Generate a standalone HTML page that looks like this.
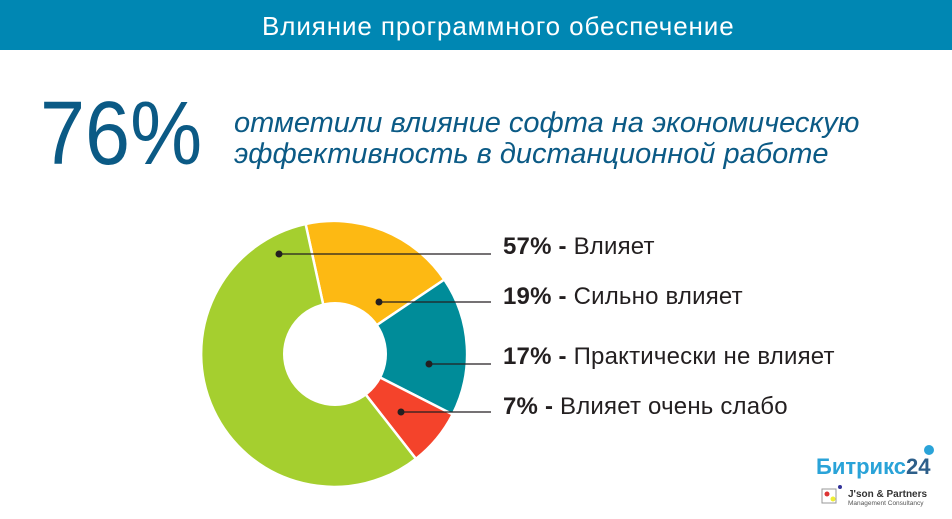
<!DOCTYPE html>
<html><head><meta charset="utf-8"><style>
body{margin:0;width:952px;height:519px;background:#fff;position:relative;overflow:hidden;font-family:"Liberation Sans","DejaVu Sans",sans-serif}
.hdr{position:absolute;left:0;top:0;width:952px;height:50px;background:#0087b3}
.hdr span{position:absolute;left:262px;top:0;color:#fff;font-size:26px;line-height:52px;letter-spacing:0.9px;white-space:nowrap}
.big{position:absolute;left:40px;top:84px;font-size:90px;color:#0b5a85;line-height:100px;transform:scaleX(0.9);transform-origin:left}
.sub{position:absolute;left:234px;top:108px;font-size:29px;font-style:italic;color:#0b5a85;line-height:31px;white-space:nowrap}
.lab{position:absolute;left:503px;font-size:24px;color:#231f20;white-space:nowrap;line-height:26px;letter-spacing:0.2px}
.lab b{font-weight:bold}
</style></head><body>
<div class="hdr"><span>Влияние программного обеспечение</span></div>
<div class="big">76%</div>
<div class="sub">отметили влияние софта на экономическую<br>эффективность в дистанционной работе</div>
<svg width="952" height="519" style="position:absolute;left:0;top:0">
<g stroke="#fff" stroke-width="2.5">
<path d="M334,354 L305.6,224 A133,133 0 0 1 444.3,279.6 Z" fill="#fdb913"/>
<path d="M334,354 L444.3,279.6 A133,133 0 0 1 452.6,414.4 Z" fill="#008c99"/>
<path d="M334,354 L452.6,414.4 A133,133 0 0 1 415.9,458.8 Z" fill="#f4432b"/>
<path d="M334,354 L415.9,458.8 A133,133 0 1 1 305.6,224 Z" fill="#a5cf2f"/>
</g>
<circle cx="335" cy="354" r="52" fill="#fff"/>
<g stroke="#231f20" stroke-width="1.3">
<line x1="279" y1="254" x2="491" y2="254"/>
<line x1="379" y1="302" x2="491" y2="302"/>
<line x1="429" y1="364" x2="491" y2="364"/>
<line x1="401" y1="412" x2="491" y2="412"/>
</g>
<g fill="#231f20"><circle cx="279" cy="254" r="3.5"/><circle cx="379" cy="302" r="3.5"/><circle cx="429" cy="364" r="3.5"/><circle cx="401" cy="412" r="3.5"/></g>
<text x="816" y="474" font-size="22" font-weight="bold" fill="#2aa3d8" font-family="Liberation Sans,sans-serif">Битрикс<tspan fill="#2d5f8a">24</tspan></text>
<circle cx="929" cy="450" r="5" fill="#2aa3d8"/>
<rect x="822" y="489" width="14" height="14" fill="none" stroke="#999" stroke-width="1"/>
<circle cx="827" cy="494" r="2.5" fill="#d33"/><circle cx="833" cy="499" r="2.5" fill="#ee3"/><circle cx="840" cy="487" r="2" fill="#339"/>
<text x="848" y="497" font-size="10" font-weight="bold" fill="#333">J'son &amp; Partners</text>
<text x="848" y="505" font-size="6.5" fill="#555">Management Consultancy</text>
</svg>
<div class="lab" style="top:234px"><b>57% -</b> Влияет</div>
<div class="lab" style="top:284px"><b>19% -</b> Сильно влияет</div>
<div class="lab" style="top:344px"><b>17% -</b> Практически не влияет</div>
<div class="lab" style="top:394px"><b>7% -</b> Влияет очень слабо</div>
</body></html>
